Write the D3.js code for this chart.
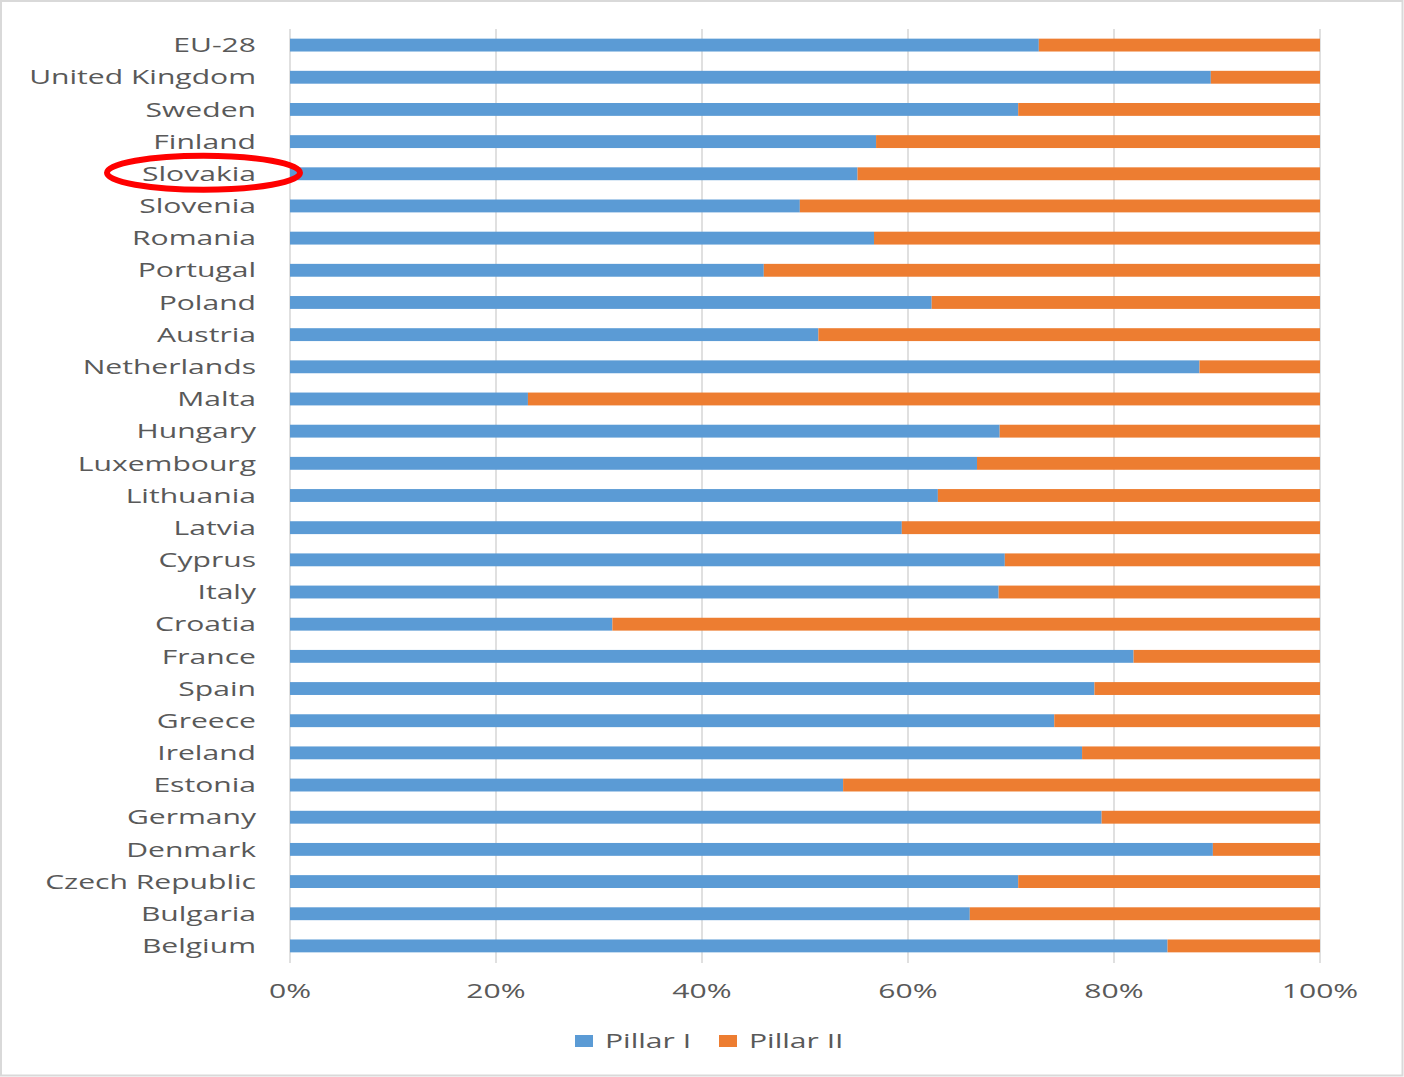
<!DOCTYPE html>
<html><head><meta charset="utf-8">
<script src="https://cdn.jsdelivr.net/npm/d3@7"></script>
<style>
html,body{margin:0;padding:0;background:#fff;}
svg{display:block;}
</style></head>
<body>
<script>
const categories = ["EU-28","United Kingdom","Sweden","Finland","Slovakia","Slovenia","Romania","Portugal","Poland","Austria","Netherlands","Malta","Hungary","Luxembourg","Lithuania","Latvia","Cyprus","Italy","Croatia","France","Spain","Greece","Ireland","Estonia","Germany","Denmark","Czech Republic","Bulgaria","Belgium"];
const pillarI = [72.7,89.4,70.7,56.9,55.1,49.5,56.7,46.0,62.3,51.3,88.3,23.1,68.9,66.7,62.9,59.4,69.4,68.8,31.3,81.9,78.1,74.2,76.9,53.7,78.8,89.6,70.7,66.0,85.2];
const pillarII = pillarI.map(v => +(100 - v).toFixed(1));
const seriesNames = ["Pillar I","Pillar II"];
const tickValues = [0,20,40,60,80,100];
const highlighted = "Slovakia";

const W = 1404, H = 1077;
const colors = {"Pillar I":"#5B9BD5","Pillar II":"#ED7D31"};
const textColor = "#595959";
const font = "'Open Sans', sans-serif";

const svg = d3.select("body").append("svg").attr("width", W).attr("height", H);
svg.append("rect").attr("x",1).attr("y",1).attr("width",W-2.5).attr("height",H-2.5)
  .attr("fill","#fff").attr("stroke","#d9d9d9").attr("stroke-width",2);

const x = d3.scaleLinear().domain([0,100]).range([290,1320]);
const y = d3.scaleBand().domain(categories).range([29,962]).paddingInner(0.6).paddingOuter(0.3);

// measure stretch factor
const probe = svg.append("text").attr("font-family",font).attr("font-size",20).text("United Kingdom");
const sx = 227 / probe.node().getComputedTextLength();
probe.remove();

// gridlines
svg.append("g").selectAll("line").data(tickValues).join("line")
  .attr("x1", d => x(d)).attr("x2", d => x(d))
  .attr("y1", 29).attr("y2", 963)
  .attr("stroke","#d9d9d9").attr("stroke-width",1.6);

const data = categories.map((c,i) => ({cat:c, "Pillar I":pillarI[i], "Pillar II":pillarII[i]}));
const stack = d3.stack().keys(seriesNames)(data);

svg.append("g").selectAll("g").data(stack).join("g")
  .attr("fill", d => colors[d.key])
  .selectAll("rect").data(d => d).join("rect")
  .attr("x", d => x(d[0]))
  .attr("width", d => x(d[1]) - x(d[0]))
  .attr("y", d => y(d.data.cat))
  .attr("height", y.bandwidth());

// category labels
svg.append("g").selectAll("text").data(categories).join("text")
  .attr("transform", d => `translate(256,${y(d)+y.bandwidth()/2}) scale(${sx},1)`)
  .attr("text-anchor","end").attr("dy","0.36em")
  .attr("font-family",font).attr("font-size",20).attr("fill",textColor)
  .text(d => d);

// x tick labels
svg.append("g").selectAll("text").data(tickValues).join("text")
  .attr("transform", d => `translate(${x(d)},998) scale(${sx},1)`)
  .attr("text-anchor","middle")
  .attr("font-family",font).attr("font-size",20).attr("fill",textColor)
  .text(d => d + "%");

// legend
const legend = svg.append("g");
const legX = [575, 719];
seriesNames.forEach((s,i) => {
  legend.append("rect").attr("x",legX[i]).attr("y",1035).attr("width",18).attr("height",12).attr("fill",colors[s]);
  legend.append("text").attr("transform",`translate(${legX[i]+30},1048) scale(${sx},1)`)
    .attr("font-family",font).attr("font-size",20).attr("fill",textColor).text(s);
});

// highlight ellipse
svg.append("ellipse")
  .attr("cx",203.5).attr("cy", y(highlighted)+y.bandwidth()/2 - 1)
  .attr("rx",96.5).attr("ry",17)
  .attr("fill","none").attr("stroke","#ff0000").attr("stroke-width",6);
</script>
</body></html>
